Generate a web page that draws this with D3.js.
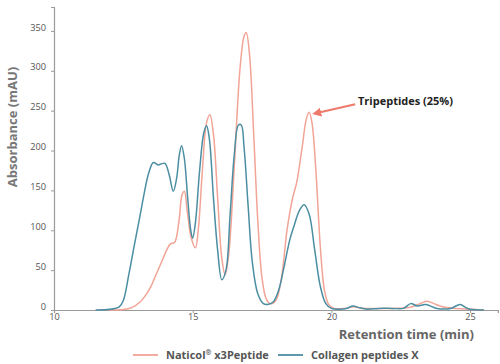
<!DOCTYPE html>
<html><head><meta charset="utf-8">
<script src="https://cdn.jsdelivr.net/npm/d3@7"></script>
<style>body{margin:0;background:#fff;}svg{display:block;font-family:'Open Sans',sans-serif;}</style>
</head><body><svg id="c" width="500" height="364"></svg>
<script>
const seriesNames = ["Naticol® x3Peptide", "Collagen peptides X"];
const xTicks = [10, 15, 20, 25];
const yTicks = [0, 50, 100, 150, 200, 250, 300, 350];
const naticolX = [12.0,12.5,12.8,13.1,13.35,13.5,13.7,13.9,14.06,14.2,14.35,14.5,14.62,14.7,14.8,14.95,15.1,15.2,15.35,15.5,15.62,15.75,15.9,16.05,16.17,16.3,16.5,16.7,16.85,16.93,17.05,17.2,17.35,17.5,17.65,17.8,18.0,18.2,18.4,18.6,18.75,18.95,19.1,19.2,19.3,19.45,19.6,19.75,19.9,20.1,20.5,20.8,21.1,21.6,22.2,22.8,23.2,23.45,23.7,24.0,24.5,25.0,25.5];
const naticolY = [0,0.5,3,10,21,30,46,62,75,83,85,110,145,149,125,90,78,100,175,235,245,220,140,65,44,70,180,300,343,348,320,220,110,40,14,8,12,40,100,140,160,205,240,248,235,170,80,25,7,2,2,4,2,2,2,3,8,11,8,4,2,1,0];
const collagenX = [11.5,12.0,12.2,12.35,12.5,12.7,12.9,13.1,13.25,13.4,13.58,13.75,13.85,14.0,14.15,14.3,14.42,14.52,14.6,14.7,14.82,14.93,15.0,15.1,15.25,15.4,15.5,15.6,15.75,15.9,16.05,16.2,16.35,16.5,16.65,16.75,16.85,17.0,17.15,17.35,17.55,17.7,17.9,18.1,18.3,18.5,18.65,18.85,19.02,19.2,19.4,19.6,19.8,20.0,20.3,20.55,20.78,21.0,21.3,21.7,22.2,22.6,22.86,23.1,23.4,23.8,24.3,24.64,24.85,25.0,25.5];
const collagenY = [0,1,2,4,12,45,82,118,146,170,185,182,183,184,170,149,165,195,206,190,140,100,90,110,175,222,231,215,140,75,38,50,120,195,232,232,205,130,60,20,8,7,10,25,55,88,105,125,132,120,75,30,8,2,1,2,5,3,1,2,2,2,8,5,7,2,2,7,3,1,0];
const annotation = {label: "Tripeptides (25%)", x: 19.2, y: 248};

const svg = d3.select("#c");
const x = d3.scaleLinear().domain([10, 26]).range([54, 497.8]);
const y = d3.scaleLinear().domain([0, 380]).range([310, 7]);

// axes
const gx = svg.append("g").attr("transform","translate(0,310)")
  .call(d3.axisBottom(x).tickValues(xTicks).tickSize(3).tickPadding(0));
const gy = svg.append("g").attr("transform","translate(54,0)")
  .call(d3.axisLeft(y).tickValues(yTicks).tickSize(3).tickPadding(5));
[gx, gy].forEach(g => {
  g.select(".domain").attr("stroke","#9a9a9a").attr("stroke-width",1.2);
  g.selectAll(".tick line").attr("stroke","#9a9a9a");
  g.selectAll(".tick text").attr("fill","#555").attr("font-size",9.2).attr("font-family","'Open Sans',sans-serif");
});
gy.selectAll(".tick text").attr("dy","-0.1em");

const line = (xs, ys) => d3.line().x((d,i)=>x(xs[i])).y((d,i)=>y(ys[i])).curve(d3.curveCatmullRom.alpha(0.5))(xs);

svg.append("path").attr("d", line(naticolX, naticolY)).attr("fill","none").attr("stroke","#f2a496").attr("stroke-width",1.5);
svg.append("path").attr("d", line(collagenX, collagenY)).attr("fill","none").attr("stroke","#4b8ea2").attr("stroke-width",1.5);

// axis titles
svg.append("text").attr("transform","translate(17,127) rotate(-90)").attr("text-anchor","middle")
  .attr("font-size",13).attr("font-weight","bold").attr("fill","#777").text("Absorbance (mAU)");
svg.append("text").attr("x",474).attr("y",339).attr("text-anchor","end")
  .attr("font-size",13).attr("font-weight","bold").attr("fill","#666").text("Retention time (min)");

// annotation
const ax = x(annotation.x)+6, ay = y(annotation.y)+1;
svg.append("defs").append("marker").attr("id","ah").attr("viewBox","0 0 10 10").attr("refX",1).attr("refY",5)
  .attr("markerWidth",4.5).attr("markerHeight",4.5).attr("orient","auto-start-reverse")
  .append("path").attr("d","M0,0L10,5L0,10z").attr("fill","#ee7a6a");
svg.append("line").attr("x1",ax+40).attr("y1",ay-9).attr("x2",ax+5).attr("y2",ay-1)
  .attr("stroke","#ee7a6a").attr("stroke-width",2).attr("marker-end","url(#ah)");
svg.append("text").attr("x",358).attr("y",105).attr("font-size",11).attr("font-weight","bold").attr("fill","#222").text(annotation.label);

// legend
const leg = [{name: seriesNames[0], color:"#f2a496", x1:133, tx:166},{name: seriesNames[1], color:"#4b8ea2", x1:278, tx:311}];
leg.forEach(l => {
  svg.append("line").attr("x1",l.x1).attr("x2",l.x1+25).attr("y1",355).attr("y2",355).attr("stroke",l.color).attr("stroke-width",1.8);
  const t = svg.append("text").attr("x",l.tx).attr("y",359).attr("font-size",11).attr("font-weight","bold").attr("fill","#555");
  if (l.name.includes("®")) {
    const parts = l.name.split("®");
    t.append("tspan").text(parts[0]);
    t.append("tspan").attr("font-size",7).attr("dy",-4).text("®");
    t.append("tspan").attr("dy",4).text(parts[1]);
  } else t.text(l.name);
});
</script></body></html>
